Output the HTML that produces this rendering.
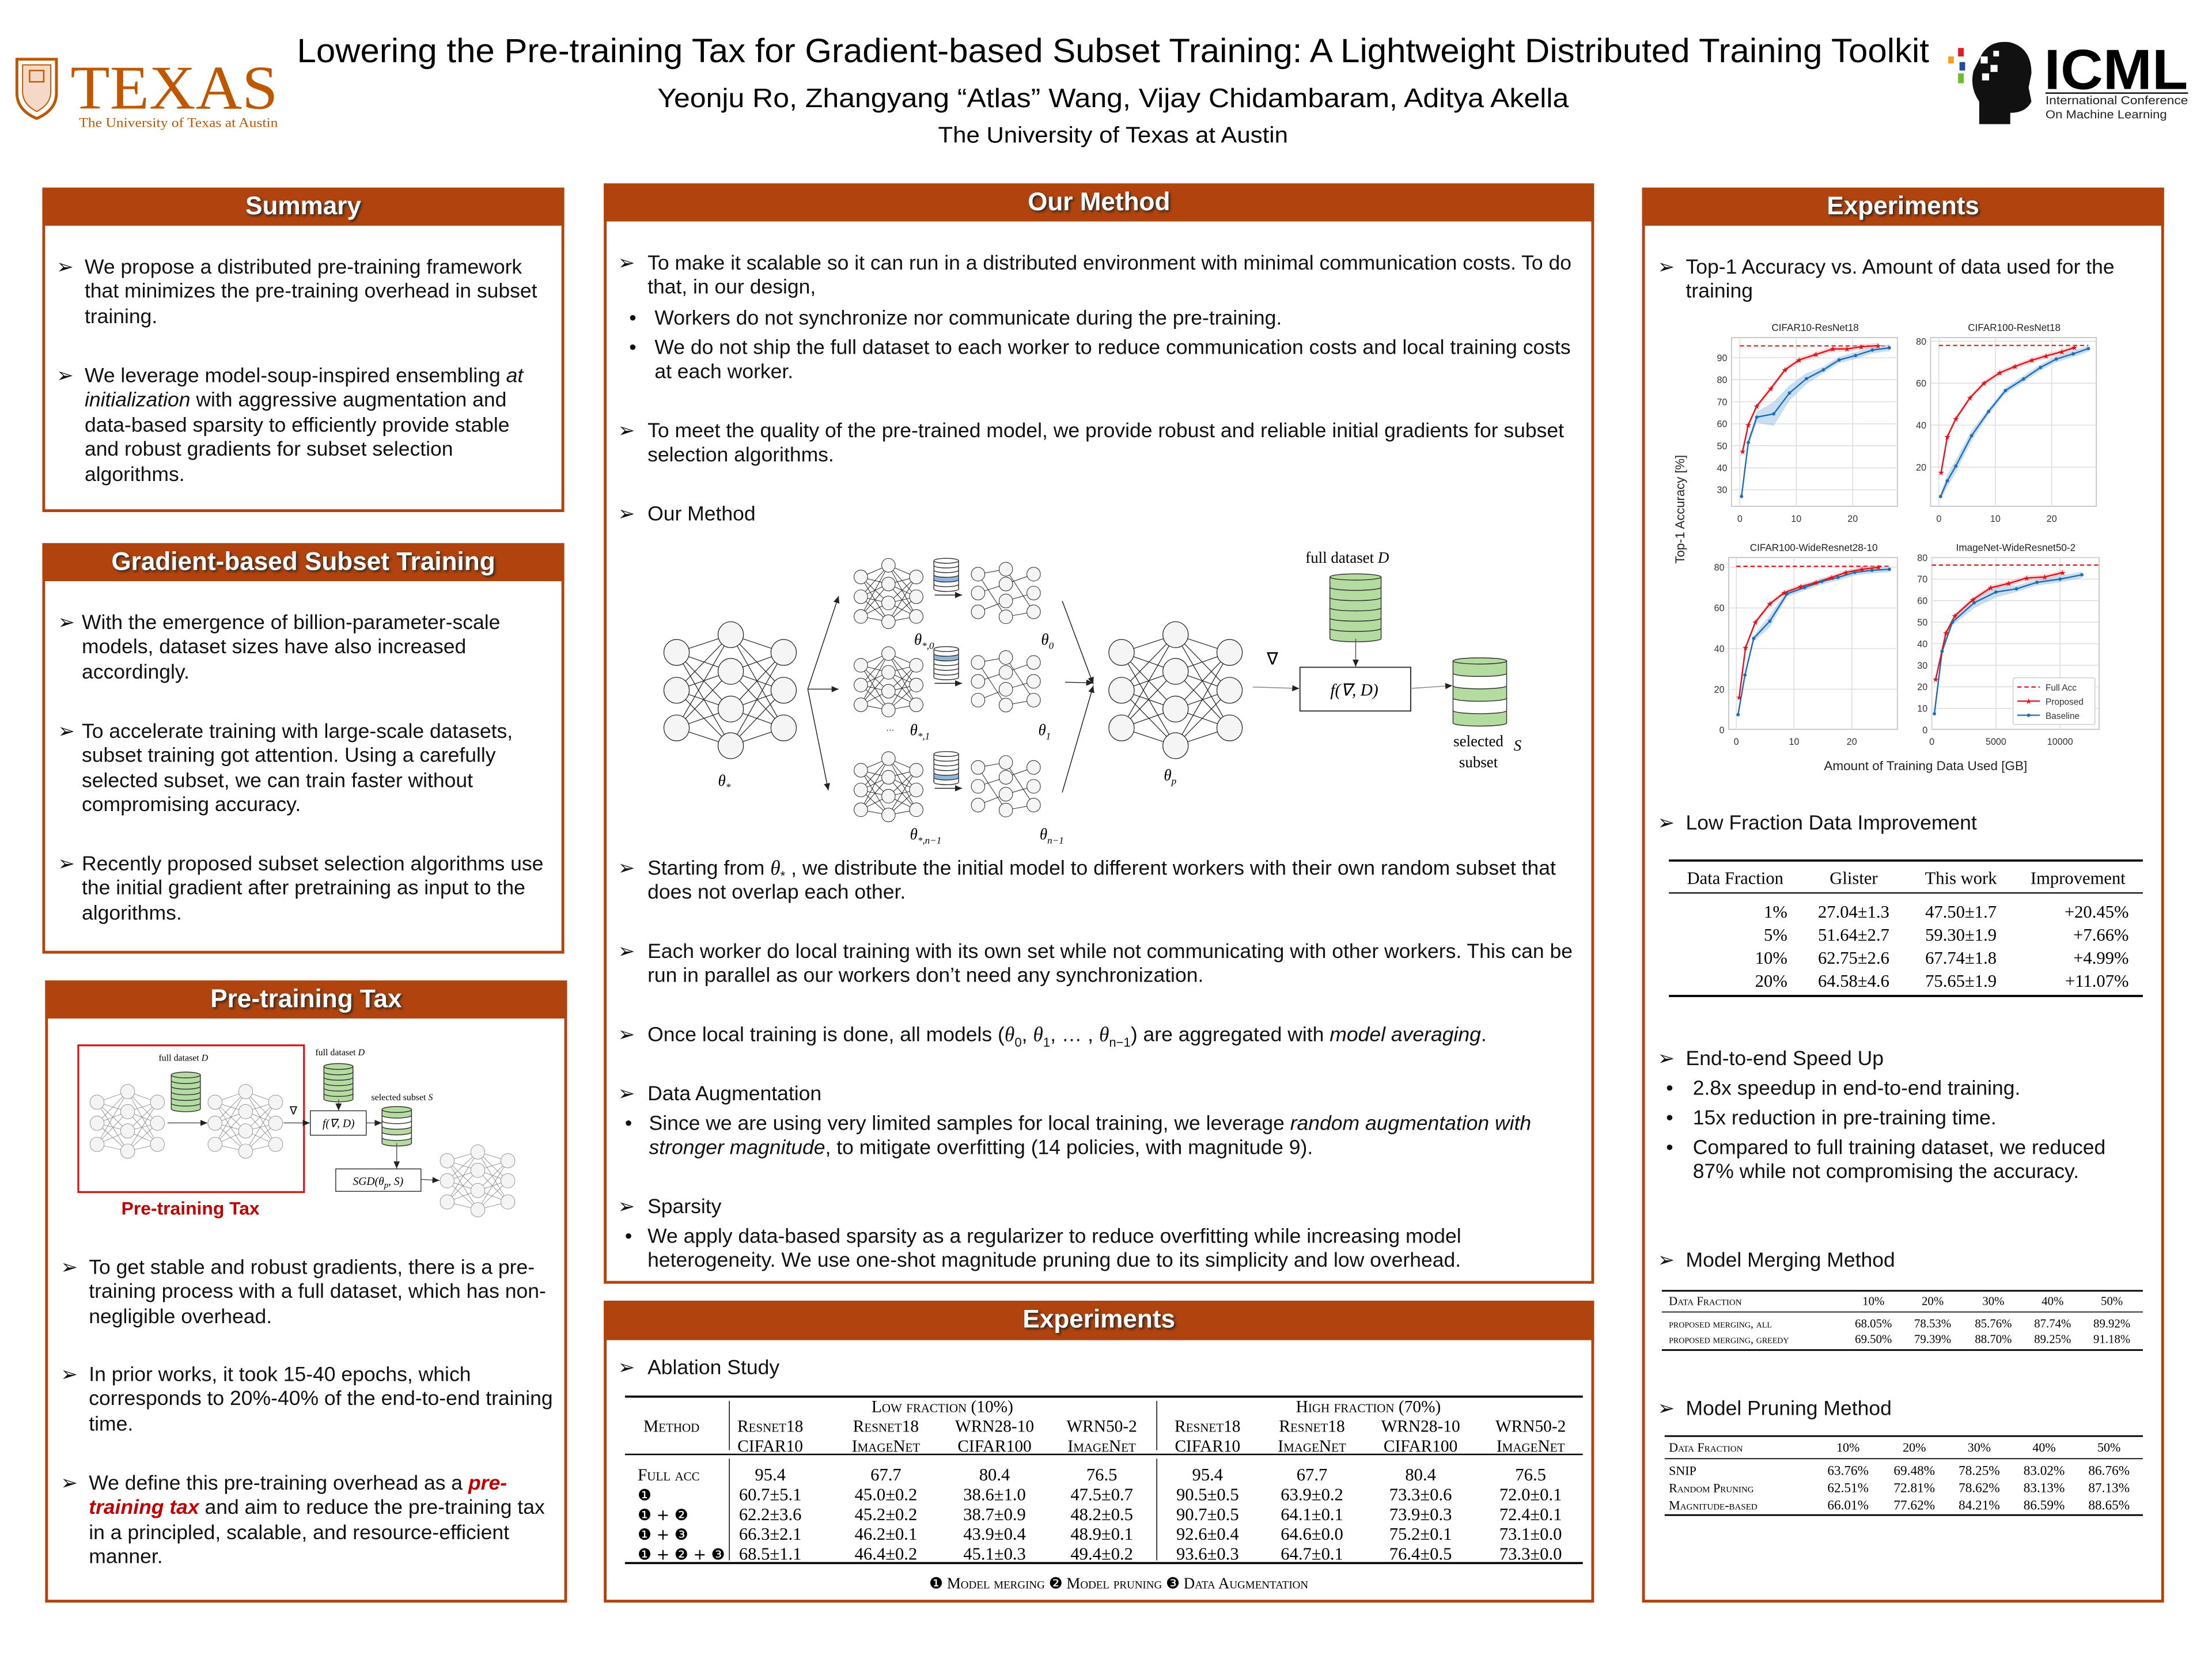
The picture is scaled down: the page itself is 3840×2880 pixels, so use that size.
<!DOCTYPE html>
<html><head><meta charset="utf-8">
<style>
html,body{margin:0;padding:0;background:#fff;}
body{width:3840px;height:2880px;overflow:hidden;position:relative;}
#p{position:absolute;left:0;top:0;width:1568px;height:1176px;transform:scale(2.44898);transform-origin:0 0;font-family:"Liberation Sans",Arial,sans-serif;color:#111;}
.box{position:absolute;border:2px solid #b1440e;box-sizing:border-box;background:#fff;}
.hd{position:absolute;background:#b1440e;color:#fff;font-weight:bold;font-size:18px;line-height:27px;height:27px;text-align:center;text-shadow:1px 1px 2px #222;}
.t{position:absolute;font-size:14.5px;line-height:17.4px;white-space:nowrap;color:#111;margin-top:2px;}
.bl{position:absolute;font-size:14.5px;line-height:17.4px;font-family:"DejaVu Sans",sans-serif;margin-top:2px;}
sub{line-height:0;font-size:9px;}
.red{color:#c00000;font-weight:bold;font-style:italic;}
svg text{font-family:"Liberation Sans",Arial,sans-serif;}
.sf{font-family:"Liberation Serif",serif !important;}
</style></head>
<body><div id="p">

<div class="box" style="left:30px;top:133px;width:370px;height:230px"></div>
<div class="hd" style="left:30px;top:133px;width:370px">Summary</div>
<div class="box" style="left:30px;top:385px;width:370px;height:291px"></div>
<div class="hd" style="left:30px;top:385px;width:370px">Gradient-based Subset Training</div>
<div class="box" style="left:32px;top:695px;width:370px;height:441px"></div>
<div class="hd" style="left:32px;top:695px;width:370px">Pre-training Tax</div>
<div class="box" style="left:428px;top:130px;width:702px;height:780px"></div>
<div class="hd" style="left:428px;top:130px;width:702px">Our Method</div>
<div class="box" style="left:428px;top:922px;width:702px;height:214px"></div>
<div class="hd" style="left:428px;top:922px;width:702px;height:28px">Experiments</div>
<div class="box" style="left:1164px;top:133px;width:370px;height:1003px"></div>
<div class="hd" style="left:1164px;top:133px;width:370px">Experiments</div>

<div class="bl" style="left:40px;top:180px">➢</div>
<div class="t" style="left:60px;top:180px">We propose a distributed pre-training framework<br>that minimizes the pre-training overhead in subset<br>training.</div>
<div class="bl" style="left:40px;top:257px">➢</div>
<div class="t" style="left:60px;top:257px">We leverage model-soup-inspired ensembling <i>at<br>initialization</i> with aggressive augmentation and<br>data-based sparsity to efficiently provide stable<br>and robust gradients for subset selection<br>algorithms.</div>

<div class="bl" style="left:41px;top:432px">➢</div>
<div class="t" style="left:58px;top:432px">With the emergence of billion-parameter-scale<br>models, dataset sizes have also increased<br>accordingly.</div>
<div class="bl" style="left:41px;top:509px">➢</div>
<div class="t" style="left:58px;top:509px">To accelerate training with large-scale datasets,<br>subset training got attention. Using a carefully<br>selected subset, we can train faster without<br>compromising accuracy.</div>
<div class="bl" style="left:41px;top:603px">➢</div>
<div class="t" style="left:58px;top:603px">Recently proposed subset selection algorithms use<br>the initial gradient after pretraining as input to the<br>algorithms.</div>

<div style="position:absolute;left:86px;top:849px;font-size:13px;font-weight:bold;color:#c00000">Pre-training Tax</div>
<div class="bl" style="left:43px;top:889px">➢</div>
<div class="t" style="left:63px;top:889px">To get stable and robust gradients, there is a pre-<br>training process with a full dataset, which has non-<br>negligible overhead.</div>
<div class="bl" style="left:43px;top:965px">➢</div>
<div class="t" style="left:63px;top:965px">In prior works, it took 15-40 epochs, which<br>corresponds to 20%-40% of the end-to-end training<br>time.</div>
<div class="bl" style="left:43px;top:1042px">➢</div>
<div class="t" style="left:63px;top:1042px">We define this pre-training overhead as a <span class="red">pre-</span><br><span class="red">training tax</span> and aim to reduce the pre-training tax<br>in a principled, scalable, and resource-efficient<br>manner.</div>

<div class="bl" style="left:438px;top:177px">➢</div>
<div class="t" style="left:459px;top:177px">To make it scalable so it can run in a distributed environment with minimal communication costs. To do<br>that, in our design,</div>
<div class="t" style="left:446px;top:216px">•</div>
<div class="t" style="left:464px;top:216px">Workers do not synchronize nor communicate during the pre-training.</div>
<div class="t" style="left:446px;top:237px">•</div>
<div class="t" style="left:464px;top:237px">We do not ship the full dataset to each worker to reduce communication costs and local training costs<br>at each worker.</div>
<div class="bl" style="left:438px;top:296px">➢</div>
<div class="t" style="left:459px;top:296px">To meet the quality of the pre-trained model, we provide robust and reliable initial gradients for subset<br>selection algorithms.</div>
<div class="bl" style="left:438px;top:355px">➢</div>
<div class="t" style="left:459px;top:355px">Our Method</div>
<div class="bl" style="left:438px;top:606px">➢</div>
<div class="t" style="left:459px;top:606px">Starting from <i class="sf">θ</i><sub>*</sub> , we distribute the initial model to different workers with their own random subset that<br>does not overlap each other.</div>
<div class="bl" style="left:438px;top:665px">➢</div>
<div class="t" style="left:459px;top:665px">Each worker do local training with its own set while not communicating with other workers. This can be<br>run in parallel as our workers don’t need any synchronization.</div>
<div class="bl" style="left:438px;top:724px">➢</div>
<div class="t" style="left:459px;top:724px">Once local training is done, all models (<i class="sf">θ</i><sub>0</sub>, <i class="sf">θ</i><sub>1</sub>, … , <i class="sf">θ</i><sub>n−1</sub>) are aggregated with <i>model averaging</i>.</div>
<div class="bl" style="left:438px;top:766px">➢</div>
<div class="t" style="left:459px;top:766px">Data Augmentation</div>
<div class="t" style="left:443px;top:787px">•</div>
<div class="t" style="left:460px;top:787px">Since we are using very limited samples for local training, we leverage <i>random augmentation with<br>stronger magnitude</i>, to mitigate overfitting (14 policies, with magnitude 9).</div>
<div class="bl" style="left:438px;top:846px">➢</div>
<div class="t" style="left:459px;top:846px">Sparsity</div>
<div class="t" style="left:443px;top:867px">•</div>
<div class="t" style="left:459px;top:867px">We apply data-based sparsity as a regularizer to reduce overfitting while increasing model<br>heterogeneity. We use one-shot magnitude pruning due to its simplicity and low overhead.</div>

<div class="bl" style="left:438px;top:960px">➢</div>
<div class="t" style="left:459px;top:960px">Ablation Study</div>

<div class="bl" style="left:1175px;top:180px">➢</div>
<div class="t" style="left:1195px;top:180px">Top-1 Accuracy vs. Amount of data used for the<br>training</div>
<div class="bl" style="left:1175px;top:574px">➢</div>
<div class="t" style="left:1195px;top:574px">Low Fraction Data Improvement</div>
<div class="bl" style="left:1175px;top:741px">➢</div>
<div class="t" style="left:1195px;top:741px">End-to-end Speed Up</div>
<div class="t" style="left:1181px;top:762px">•</div>
<div class="t" style="left:1200px;top:762px">2.8x speedup in end-to-end training.</div>
<div class="t" style="left:1181px;top:783px">•</div>
<div class="t" style="left:1200px;top:783px">15x reduction in pre-training time.</div>
<div class="t" style="left:1181px;top:804px">•</div>
<div class="t" style="left:1200px;top:804px">Compared to full training dataset, we reduced<br>87% while not compromising the accuracy.</div>
<div class="bl" style="left:1175px;top:884px">➢</div>
<div class="t" style="left:1195px;top:884px">Model Merging Method</div>
<div class="bl" style="left:1175px;top:989px">➢</div>
<div class="t" style="left:1195px;top:989px">Model Pruning Method</div>

<svg id="s" width="1568" height="1176" style="position:absolute;left:0;top:0" xmlns="http://www.w3.org/2000/svg">
<defs>
<marker id="ar" markerWidth="6" markerHeight="6" refX="5" refY="3" orient="auto" markerUnits="userSpaceOnUse"><path d="M0,0.8 L5,3 L0,5.2 Z" fill="#222"/></marker>
</defs>
<text x="789" y="44" font-size="24" text-anchor="middle" textLength="1157" lengthAdjust="spacingAndGlyphs">Lowering the Pre-training Tax for Gradient-based Subset Training: A Lightweight Distributed Training Toolkit</text>
<text x="789" y="76" font-size="19" text-anchor="middle" textLength="646" lengthAdjust="spacingAndGlyphs">Yeonju Ro, Zhangyang “Atlas” Wang, Vijay Chidambaram, Aditya Akella</text>
<text x="789" y="101" font-size="16" text-anchor="middle" textLength="248" lengthAdjust="spacingAndGlyphs">The University of Texas at Austin</text>
<path d="M12,42 L40,42 L40,66 Q40,78 26,84 Q12,78 12,66 Z" fill="none" stroke="#bf5700" stroke-width="2"/>
<path d="M16,46 L36,46 L36,65 Q36,74 26,79 Q16,74 16,65 Z" fill="#f3d9c6" stroke="#bf5700" stroke-width="0.8"/>
<rect x="21" y="50" width="10" height="8" fill="none" stroke="#bf5700" stroke-width="1"/>
<text x="50" y="77" font-size="44" fill="#bf5700" textLength="147" lengthAdjust="spacingAndGlyphs" style="font-family:'Liberation Serif',serif">TEXAS</text>
<text x="56" y="90" font-size="9.5" fill="#bf5700" textLength="141" lengthAdjust="spacingAndGlyphs" style="font-family:'Liberation Serif',serif">The University of Texas at Austin</text>
<path d="M1404,40 Q1410,28 1425,30 Q1440,34 1440,52 L1438,62 L1440,72 Q1436,80 1425,80 L1425,88 L1403,88 L1403,72 Q1396,62 1399,50 Z" fill="#111"/>
<rect x="1388" y="34" width="4" height="6" fill="#e31b23"/>
<rect x="1381" y="40" width="4" height="5" fill="#f4a11d"/>
<rect x="1389" y="44" width="4" height="6" fill="#1f4e9c"/>
<rect x="1388" y="52" width="4" height="7" fill="#6abf27"/>
<rect x="1404" y="40" width="5" height="5" fill="#fff"/><rect x="1411" y="46" width="5" height="5" fill="#fff"/><rect x="1405" y="52" width="5" height="5" fill="#fff"/><rect x="1413" y="36" width="4" height="4" fill="#fff"/>
<text x="1449" y="63" font-size="40" font-weight="bold" textLength="102" lengthAdjust="spacingAndGlyphs">ICML</text>
<line x1="1450" y1="66" x2="1551" y2="66" stroke="#111" stroke-width="1"/>
<text x="1450" y="74" font-size="8.3" fill="#222" textLength="101" lengthAdjust="spacingAndGlyphs">International Conference</text>
<text x="1450" y="84" font-size="8.3" fill="#222" textLength="86" lengthAdjust="spacingAndGlyphs">On Machine Learning</text>

<rect x="55.5" y="741" width="160" height="104" fill="none" stroke="#e01010" stroke-width="1.3"/>
<text x="130" y="752" font-size="6.5" text-anchor="middle" style="font-family:'Liberation Serif',serif">full dataset <tspan font-style="italic">D</tspan></text>
<text x="241" y="748" font-size="6.5" text-anchor="middle" style="font-family:'Liberation Serif',serif">full dataset <tspan font-style="italic">D</tspan></text>
<text x="285" y="780" font-size="6.5" text-anchor="middle" style="font-family:'Liberation Serif',serif">selected subset <tspan font-style="italic">S</tspan></text>
<text x="208" y="790" font-size="8" text-anchor="middle">∇</text>
<rect x="220" y="787.4" width="39.6" height="17.3" fill="#fff" stroke="#333" stroke-width="0.6"/>
<text x="240" y="799" font-size="8" text-anchor="middle" font-style="italic" style="font-family:'Liberation Serif',serif">f(∇, D)</text>
<rect x="238" y="828.6" width="60.4" height="15.9" fill="#fff" stroke="#333" stroke-width="0.6"/>
<text x="268" y="840" font-size="8" text-anchor="middle" font-style="italic" style="font-family:'Liberation Serif',serif">SGD(θ<tspan font-size="6" dy="2">p</tspan><tspan dy="-2">, S)</tspan></text>

<text x="955" y="399" font-size="11" text-anchor="middle" style="font-family:'Liberation Serif',serif">full dataset  <tspan font-style="italic">D</tspan></text>
<text x="902" y="471" font-size="12" text-anchor="middle">∇</text>
<rect x="921.5" y="473" width="78.5" height="31" fill="#fff" stroke="#333" stroke-width="0.8"/>
<text x="960" y="493" font-size="12" text-anchor="middle" font-style="italic" style="font-family:'Liberation Serif',serif">f(∇, D)</text>
<text x="1048" y="529" font-size="11" text-anchor="middle" style="font-family:'Liberation Serif',serif">selected</text>
<text x="1073" y="532" font-size="11" font-style="italic" style="font-family:'Liberation Serif',serif">S</text>
<text x="1048" y="544" font-size="11" text-anchor="middle" style="font-family:'Liberation Serif',serif">subset</text>
<g font-size="11" font-style="italic">
<text x="509" y="557" style="font-family:'Liberation Serif',serif">θ<tspan font-size="7" dy="3">*</tspan></text>
<text x="648" y="457" style="font-family:'Liberation Serif',serif">θ<tspan font-size="7" dy="3">*,0</tspan></text>
<text x="738" y="457" style="font-family:'Liberation Serif',serif">θ<tspan font-size="7" dy="3">0</tspan></text>
<text x="645" y="521" style="font-family:'Liberation Serif',serif">θ<tspan font-size="7" dy="3">*,1</tspan></text>
<text x="736" y="521" style="font-family:'Liberation Serif',serif">θ<tspan font-size="7" dy="3">1</tspan></text>
<text x="645" y="595" style="font-family:'Liberation Serif',serif">θ<tspan font-size="7" dy="3">*,n−1</tspan></text>
<text x="737" y="595" style="font-family:'Liberation Serif',serif">θ<tspan font-size="7" dy="3">n−1</tspan></text>
<text x="825" y="553" style="font-family:'Liberation Serif',serif">θ<tspan font-size="7" dy="3">p</tspan></text>
</g>
<text x="628" y="518" font-size="6">…</text>

<text x="0" y="0" font-size="9" text-anchor="middle" transform="translate(1194,361) rotate(-90)" fill="#222">Top-1 Accuracy [%]</text>
<text x="1365" y="546" font-size="9.2" text-anchor="middle" fill="#222">Amount of Training Data Used [GB]</text>

<g font-size="12.5">
<line x1="1183" y1="610" x2="1519" y2="610" stroke="#000" stroke-width="1.5"/>
<line x1="1183" y1="633" x2="1519" y2="633" stroke="#000" stroke-width="0.9"/>
<line x1="1183" y1="706" x2="1519" y2="706" stroke="#000" stroke-width="1.5"/>
<text x="1230" y="626.5" text-anchor="middle" style="font-family:'Liberation Serif',serif">Data Fraction</text>
<text x="1314" y="626.5" text-anchor="middle" style="font-family:'Liberation Serif',serif">Glister</text>
<text x="1390" y="626.5" text-anchor="middle" style="font-family:'Liberation Serif',serif">This work</text>
<text x="1473" y="626.5" text-anchor="middle" style="font-family:'Liberation Serif',serif">Improvement</text>
</g>

<line x1="1178" y1="915" x2="1519" y2="915" stroke="#000" stroke-width="1.2"/>
<line x1="1178" y1="930" x2="1519" y2="930" stroke="#000" stroke-width="0.7"/>
<line x1="1178" y1="957" x2="1519" y2="957" stroke="#000" stroke-width="1.2"/>
<line x1="1180" y1="1018" x2="1519" y2="1018" stroke="#000" stroke-width="1.2"/>
<line x1="1180" y1="1034" x2="1519" y2="1034" stroke="#000" stroke-width="0.7"/>
<line x1="1180" y1="1074" x2="1519" y2="1074" stroke="#000" stroke-width="1.2"/>

<line x1="443" y1="990" x2="1122" y2="990" stroke="#000" stroke-width="1.5"/>
<line x1="443" y1="1031" x2="1122" y2="1031" stroke="#000" stroke-width="1"/>
<line x1="443" y1="1108" x2="1122" y2="1108" stroke="#000" stroke-width="1.5"/>
<line x1="517" y1="993" x2="517" y2="1028" stroke="#000" stroke-width="0.6"/>
<line x1="517" y1="1034" x2="517" y2="1106" stroke="#000" stroke-width="0.6"/>
<line x1="820" y1="993" x2="820" y2="1028" stroke="#000" stroke-width="0.6"/>
<line x1="820" y1="1034" x2="820" y2="1106" stroke="#000" stroke-width="0.6"/>
</svg>
</div>

<script>
const S=document.getElementById('s');
const NS='http://www.w3.org/2000/svg';
function el(t,a,txt,par){const e=document.createElementNS(NS,t);for(const k in a)e.setAttribute(k,a[k]);if(txt!=null)e.textContent=txt;(par||S).appendChild(e);return e;}
function line(x1,y1,x2,y2,c,w,extra){const a={x1,y1,x2,y2,stroke:c||'#222','stroke-width':w||0.6};if(extra)Object.assign(a,extra);return el('line',a);}
function arrow(x1,y1,x2,y2,c){line(x1,y1,x2,y2,c||'#555',0.6,{'marker-end':'url(#ar)'});}
function net(cx,ys,r,stroke,fill,lw,sparse){
 for(let c=0;c<cx.length-1;c++)for(let i=0;i<ys[c].length;i++)for(let j=0;j<ys[c+1].length;j++){
  if(sparse&&((i*2+j+c)%3))continue;
  line(cx[c],ys[c][i],cx[c+1],ys[c+1][j],stroke,lw);}
 for(let c=0;c<cx.length;c++)for(const y of ys[c])el('ellipse',{cx:cx[c],cy:y,rx:r,ry:r*1.02,fill:fill,stroke:stroke,'stroke-width':lw});
}
function cyl(x,y,w,h,cols,stroke){const n=cols.length,bh=h/n,ry=Math.min(w*0.1,2.2);
 for(let i=n-1;i>=0;i--){const yy=y+i*bh;el('path',{d:`M${x},${yy} L${x},${yy+bh} A${w/2},${ry} 0 0 0 ${x+w},${yy+bh} L${x+w},${yy} Z`,fill:cols[i],stroke:stroke,'stroke-width':0.6});}
 el('ellipse',{cx:x+w/2,cy:y,rx:w/2,ry:ry,fill:cols[0],stroke:stroke,'stroke-width':0.6});
}
const G='#b5dca0',W='#ffffff',B='#8fb6dc';
const pc1=[781.3,796.2,811.2],pc2=[773.8,788,801.7,816];
net([68.8,90.5,111.6],[pc1,pc2,pc1],5,'#888','#f4f4f4',0.35);
net([152.4,174.1,195.4],[pc1,pc2,pc1],5,'#888','#f4f4f4',0.35);
cyl(121.4,762,20.6,24,[G,G,G,G,G,G],'#333');
arrow(118.8,796,147,796);
arrow(201,796,219.6,796);
cyl(229.6,756,20.6,23,[G,G,G,G,G,G],'#333');
arrow(240,779.2,240,787.2);
arrow(259.6,796,270.6,796);
cyl(270.8,786.5,20.9,23.8,[G,W,W,G,W,G],'#333');
arrow(281.2,810.3,281.2,828.3);
arrow(298.4,836,311.5,836.8);
const qc1=[822.8,837,852],qc2=[816.6,829.6,843.9,857.5];
net([317,338.7,360],[qc1,qc2,qc1],5,'#888','#f4f4f4',0.35);

const L1=[462.5,489.3,516],L2=[449.9,475.9,502.6,528.6];
net([479.6,518,555.5],[L1,L2,L1],9,'#222','#f5f5f5',0.5);
net([795,833.3,871.6],[L1,L2,L1],9,'#222','#f5f5f5',0.5);
const offs=[0,62.6,137];const blue=[3,1,4];
offs.forEach((o,k)=>{
 const d1=[409+o,423+o,437+o],d2=[400.7+o,414+o,427.4+o,440.7+o];
 net([610.2,629.8,649.5],[d1,d2,d1],4.8,'#222','#f5f5f5',0.4);
 const s1=[407+o,420.4+o,433.7+o],s2=[403.5+o,414+o,426+o,437.2+o];
 net([693.3,713,732.7],[s1,s2,s1],4.8,'#222','#f5f5f5',0.4,true);
 const cols=[W,W,W,W,W,W];cols[blue[k]]=B;
 cyl(662,397.5+o,17.5,20,cols,'#333');
 arrow(662.6,421.8+o,682,421.8+o,'#222');
});
arrow(572.6,488.5,594.5,422.5,'#222');
arrow(572.6,488.5,594.5,488.5,'#222');
arrow(572.6,488.5,587.2,560.3,'#222');
arrow(753,426,775,485,'#222');
arrow(755,483.6,775,484,'#222');
arrow(753,561.7,775,486,'#222');
cyl(942.7,409,36.3,43.7,[G,G,G,G,G,G],'#333');
arrow(961,452.7,961,472.6,'#555');
arrow(888,487,921,488,'#888');
arrow(1000,488,1029.5,486,'#888');
cyl(1030,468.5,38,44,[G,W,G,W,G],'#333');

function chart(o){
 el('rect',{x:o.fx0,y:o.fy0,width:o.fx1-o.fx0,height:o.fy1-o.fy0,fill:'#fff',stroke:'#c8c8c8','stroke-width':0.8});
 for(const v of o.yt){const y=o.Y(v);if(y>o.fy0&&y<o.fy1)line(o.fx0,y,o.fx1,y,'#dcdcdc',0.6);el('text',{x:o.fx0-3,y:y+2.4,'font-size':6.6,'text-anchor':'end',fill:'#333'},v);}
 for(const u of o.xt){const x=o.X(u);line(x,o.fy0,x,o.fy1,'#dcdcdc',0.6);el('text',{x:x,y:o.fy1+11,'font-size':6.6,'text-anchor':'middle',fill:'#333'},u);}
 el('text',{x:o.tx,y:o.ty+2.5,'font-size':7,'text-anchor':'middle',fill:'#222'},o.title);
 line(o.X(o.fa0),o.Y(o.fa),o.X(o.fa1),o.Y(o.fa),'#e3121b',0.9,{'stroke-dasharray':'3,2'});
 const bw=o.bw||1.5;
 const top=o.b.map(p=>`${o.X(p[0])},${o.Y(p[1]+bw+(p[2]||0))}`),bot=o.b.slice().reverse().map(p=>`${o.X(p[0])},${o.Y(p[1]-bw-(p[2]||0))}`);
 el('polygon',{points:top.concat(bot).join(' '),fill:'#9ec3e6','fill-opacity':0.55});
 const tp=o.p.map(p=>`${o.X(p[0])},${o.Y(p[1]+1.2)}`),bp=o.p.slice().reverse().map(p=>`${o.X(p[0])},${o.Y(p[1]-1.2)}`);
 el('polygon',{points:tp.concat(bp).join(' '),fill:'#f4a0a0','fill-opacity':0.4});
 el('polyline',{points:o.b.map(p=>`${o.X(p[0])},${o.Y(p[1])}`).join(' '),fill:'none',stroke:'#1f6db5','stroke-width':1});
 el('polyline',{points:o.p.map(p=>`${o.X(p[0])},${o.Y(p[1])}`).join(' '),fill:'none',stroke:'#e3121b','stroke-width':1});
 o.b.forEach(p=>el('circle',{cx:o.X(p[0]),cy:o.Y(p[1]),r:1.2,fill:'#1f6db5'}));
 o.p.forEach(p=>el('text',{x:o.X(p[0]),y:o.Y(p[1])+2,'font-size':5.5,'text-anchor':'middle',fill:'#e3121b',style:"font-family:'DejaVu Sans',sans-serif"},'★'));
}
chart({fx0:1227.4,fx1:1345,fy0:239.3,fy1:358.9,X:u=>1233.3+4*u,Y:v=>253.6+(90-v)*1.56,yt:[30,40,50,60,70,80,90],xt:[0,10,20],
 title:'CIFAR10-ResNet18',tx:1286.7,ty:232,fa:95.4,fa0:0,fa1:26.5,
 p:[[0.5,47.5],[1.5,59.5],[3,68],[5.5,76],[8,84.5],[10.5,89],[13.5,91.5],[16.5,94],[19,94],[21.5,95],[24.5,95.5]],
 b:[[0.3,27],[1.5,51.5],[3,63,1],[6,64.5,4],[8.8,74,2],[11.8,80.5,1],[14.8,84.5],[17.6,89],[20.5,91],[23.5,93.5],[26.5,94.5]]});
chart({fx0:1368.5,fx1:1486,fy0:239.3,fy1:358.9,X:u=>1374.4+4*u,Y:v=>241.9+(80-v)*1.487,yt:[20,40,60,80],xt:[0,10,20],
 title:'CIFAR100-ResNet18',tx:1427.8,ty:232,fa:78,fa0:0,fa1:26.5,
 p:[[0.4,17.5],[1.5,34.5],[3,43],[5.5,53],[8,60],[10.8,65],[13.5,68],[16.5,71],[19,73],[21.8,75],[24,77]],
 b:[[0.3,6],[1.5,13.5,1.5],[3,20.5,1.5],[5.8,35,1],[8.8,46.5],[11.8,56.5],[15,62],[18,67.5],[20.8,71.5],[23.8,74],[26.5,76.5]]});
chart({fx0:1225.4,fx1:1345,fy0:395.2,fy1:517,X:u=>1230.8+4.095*u,Y:v=>517.4-v*1.441,yt:[0,20,40,60,80],xt:[0,10,20],
 title:'CIFAR100-WideResnet28-10',tx:1285.7,ty:388,fa:80.5,fa0:0,fa1:26.5,
 p:[[0.5,16],[1.6,40.5],[3.3,53],[5.8,62],[8.3,67.5],[11.2,70.5],[13.8,72.5],[16.5,75],[19,77.5],[21.8,79],[24.6,80]],
 b:[[0.3,7.5],[1.5,27],[3,45],[5.8,53.5,1.5],[8.8,67],[11.8,70],[14.8,73],[17.6,75],[20.5,77.5],[23.5,78.5],[26.5,79]]});
chart({fx0:1369.4,fx1:1488,fy0:395.2,fy1:517,X:u=>1369.4+u*0.00909,Y:v=>517.4-v*1.527,yt:[0,10,20,30,40,50,60,70,80],xt:[0,5000,10000],
 title:'ImageNet-WideResnet50-2',tx:1428.9,ty:388,fa:76.5,fa0:0,fa1:13000,
 p:[[300,23.5],[1100,45],[1800,53],[3200,60.5],[4600,66],[6000,68],[7400,70.5],[8800,71],[10200,73]],
 b:[[200,7.5],[800,36.5],[1600,50],[3300,59,1],[5000,64,1],[6600,65.5],[8200,68.5],[10000,70],[11700,72]]});
el('rect',{x:1427,y:480.5,width:58,height:33,fill:'#fff',stroke:'#ccc','stroke-width':0.6,rx:1});
line(1430,487,1446,487,'#e3121b',0.9,{'stroke-dasharray':'3,2'});
line(1430,497,1446,497,'#e3121b',0.9);line(1430,507,1446,507,'#1f6db5',0.9);
el('circle',{cx:1438,cy:507,r:1.2,fill:'#1f6db5'});
el('text',{x:1438,y:499,'font-size':5.5,'text-anchor':'middle',fill:'#e3121b',style:"font-family:'DejaVu Sans',sans-serif"},'★');
[['Full Acc',489.5],['Proposed',499.5],['Baseline',509.5]].forEach(a=>el('text',{x:1450,y:a[1],'font-size':6.3,fill:'#333'},a[0]));

function T(x,y,s,size,anchor,cls){const e=el('text',{x,y,'font-size':size,'text-anchor':anchor||'middle'},s);e.setAttribute('style',"font-family:'Liberation Serif',serif;"+(cls==='sc'?'font-variant:small-caps;':''));return e;}
const lf=[['1%','27.04±1.3','47.50±1.7','+20.45%'],['5%','51.64±2.7','59.30±1.9','+7.66%'],['10%','62.75±2.6','67.74±1.8','+4.99%'],['20%','64.58±4.6','75.65±1.9','+11.07%']];
lf.forEach((r,i)=>{const y=650.5+i*16.3;T(1267,y,r[0],12.5,'end');T(1314,y,r[1],12.5);T(1390,y,r[2],12.5);T(1509,y,r[3],12.5,'end');});
T(1183,925,'Data Fraction',8.5,'start','sc');
[1328,1370,1413,1455,1497].forEach((x,i)=>T(x,925,(i+1)*10+'%',8.5));
T(1183,941,'proposed merging, all',8,'start','sc');T(1183,952,'proposed merging, greedy',8,'start','sc');
[['68.05%','78.53%','85.76%','87.74%','89.92%'],['69.50%','79.39%','88.70%','89.25%','91.18%']].forEach((r,i)=>r.forEach((v,j)=>T([1328,1370,1413,1455,1497][j],941+i*11,v,8.5)));
T(1183,1029,'Data Fraction',9,'start','sc');
const px=[1310,1357,1403,1449,1495];
px.forEach((x,i)=>T(x,1029,(i+1)*10+'%',9));
[['SNIP',['63.76%','69.48%','78.25%','83.02%','86.76%']],['Random Pruning',['62.51%','72.81%','78.62%','83.13%','87.13%']],['Magnitude-based',['66.01%','77.62%','84.21%','86.59%','88.65%']]].forEach((r,i)=>{const y=1045.5+i*12.3;T(1183,y,r[0],9,'start','sc');r[1].forEach((v,j)=>T(px[j],y,v,9.5));});
T(668,1001,'Low fraction (10%)',12,'middle','sc');T(970,1001,'High fraction (70%)',12,'middle','sc');
T(476,1015,'Method',12,'middle','sc');
const ax=[546,628,705,781,856,930,1007,1085];
const h1=['Resnet18','Resnet18','WRN28-10','WRN50-2','Resnet18','Resnet18','WRN28-10','WRN50-2'];
const h2=['CIFAR10','ImageNet','CIFAR100','ImageNet','CIFAR10','ImageNet','CIFAR100','ImageNet'];
ax.forEach((x,i)=>{T(x,1015,h1[i],12,'middle','sc');T(x,1029,h2[i],12,'middle','sc');});
const rows=[['Full acc','95.4','67.7','80.4','76.5','95.4','67.7','80.4','76.5'],
['❶','60.7±5.1','45.0±0.2','38.6±1.0','47.5±0.7','90.5±0.5','63.9±0.2','73.3±0.6','72.0±0.1'],
['❶ + ❷','62.2±3.6','45.2±0.2','38.7±0.9','48.2±0.5','90.7±0.5','64.1±0.1','73.9±0.3','72.4±0.1'],
['❶ + ❸','66.3±2.1','46.2±0.1','43.9±0.4','48.9±0.1','92.6±0.4','64.6±0.0','75.2±0.1','73.1±0.0'],
['❶ + ❷ + ❸','68.5±1.1','46.4±0.2','45.1±0.3','49.4±0.2','93.6±0.3','64.7±0.1','76.4±0.5','73.3±0.0']];
rows.forEach((r,i)=>{const y=1049.5+i*14;
 if(i===0)T(452,y,r[0],12,'start','sc');else{const e=el('text',{x:452,y:y,'font-size':11},r[0]);e.setAttribute('style',"font-family:'DejaVu Sans',sans-serif");}
 for(let j=1;j<9;j++)T(ax[j-1],y,r[j],12.5);});
const lg=el('text',{x:793,y:1126,'font-size':11,'text-anchor':'middle'},'');
lg.setAttribute('style',"font-family:'Liberation Serif',serif;font-variant:small-caps;");
lg.textContent='❶ Model merging ❷ Model pruning ❸ Data Augmentation';
</script>
</body></html>
